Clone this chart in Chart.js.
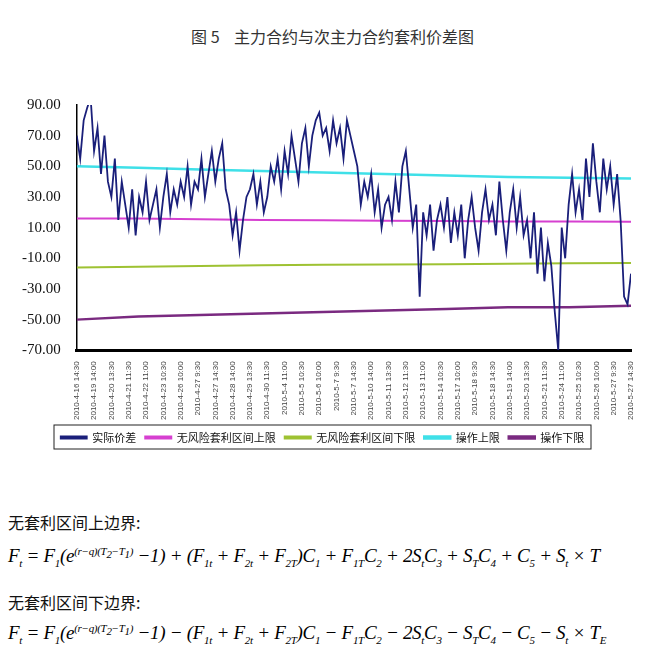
<!DOCTYPE html>
<html><head><meta charset="utf-8">
<script src="https://cdn.jsdelivr.net/npm/chart.js@4/dist/chart.umd.min.js"></script>
<style>
body{margin:0;background:#fff;font-family:"Liberation Serif","Noto Sans CJK SC",serif;}
#title{position:absolute;top:24px;left:0;width:665px;text-align:center;font-size:16px;font-family:"Noto Sans CJK SC";color:#333;}
#wrap{position:absolute;top:88px;left:0;width:665px;height:365px;}
.t{position:absolute;left:8px;font-size:16px;font-family:"Noto Sans CJK SC";color:#111;}
.f{position:absolute;left:8px;font-size:19px;font-family:"Liberation Serif";font-style:italic;white-space:nowrap;letter-spacing:-0.3px;}
.f sub,.f sup{font-size:11px;}
</style></head><body>
<div id="title">图 5&nbsp;&nbsp;&nbsp;&nbsp;主力合约与次主力合约套利价差图</div>
<div id="wrap"><canvas id="c"></canvas></div>
<div class="t" style="top:510px">无套利区间上边界:</div>
<div class="f" style="top:545px">F<sub>t</sub> = F<sub>1</sub>(e<sup>(r−q)(T<sub>2</sub>−T<sub>1</sub>)</sup> −1) + (F<sub>1t</sub> + F<sub>2t</sub> + F<sub>2T</sub>)C<sub>1</sub> + F<sub>1T</sub>C<sub>2</sub> + 2S<sub>t</sub>C<sub>3</sub> + S<sub>T</sub>C<sub>4</sub> + C<sub>5</sub> + S<sub>t</sub> × T</div>
<div class="t" style="top:590px">无套利区间下边界:</div>
<div class="f" style="top:622px">F<sub>t</sub> = F<sub>1</sub>(e<sup>(r−q)(T<sub>2</sub>−T<sub>1</sub>)</sup> −1) − (F<sub>1t</sub> + F<sub>2t</sub> + F<sub>2T</sub>)C<sub>1</sub> − F<sub>1T</sub>C<sub>2</sub> − 2S<sub>t</sub>C<sub>3</sub> − S<sub>T</sub>C<sub>4</sub> − C<sub>5</sub> − S<sub>t</sub> × T<sub>E</sub></div>
<script>
const tickLabels = ['2010-4-16 14:30','2010-4-19 14:00','2010-4-20 13:30','2010-4-21 11:30','2010-4-22 11:00','2010-4-23 10:30','2010-4-26 10:00','2010-4-27 9:30','2010-4-27 14:30','2010-4-28 14:00','2010-4-29 13:30','2010-4-30 11:30','2010-5-4 11:00','2010-5-5 10:30','2010-5-6 10:00','2010-5-7 9:30','2010-5-7 14:30','2010-5-10 14:00','2010-5-11 13:30','2010-5-12 11:30','2010-5-13 11:00','2010-5-14 10:30','2010-5-17 10:00','2010-5-18 9:30','2010-5-18 14:30','2010-5-19 14:00','2010-5-20 13:30','2010-5-21 11:30','2010-5-24 11:00','2010-5-25 10:30','2010-5-26 10:00','2010-5-27 9:30','2010-5-27 14:30'];

// actual spread, 5 readings per tick interval
const actualSpread = [
70,55,80,88,95, 60,75,45,70,40, 30,55,15,40,25, 10,35,5,30,20,
40,15,25,35,10, 30,45,20,35,25, 40,30,50,25,40, 35,55,30,45,60,
40,55,65,35,25, 5,20,-5,15,30, 35,45,25,40,20, 30,50,40,55,35,
60,45,70,55,40, 65,75,50,70,80, 85,70,75,60,80, 65,75,55,80,70,
60,50,25,40,30, 45,20,35,10,25, 30,15,40,20,50, 60,35,10,25,-35,
20,5,25,-5,15, 25,10,30,0,20, 5,25,-10,15,30, 10,-5,20,35,15,
25,5,40,15,-5, 20,35,10,30,5, 15,-10,20,-20,10, -25,0,-15,-45,-70,
10,-10,25,45,20, 35,15,55,30,65, 40,20,55,35,50, 25,45,15,-35,-40,
-20,10];
const upperBound = [16,16,15.5,15,14.8,14.5,14.3,14,14,13.8];
const lowerBound = [-16,-15.5,-15,-14.5,-14.2,-14,-13.8,-13.5,-13.2,-13];
const opUpper = [50,49,48,47,46,45,44,43,42.5,42];
const opLower = [-50,-48,-47,-46,-45,-44,-43,-42,-42,-41];

const pts = a => a.map((y,i)=>({x:i/5,y}));
const flat = a => a.map((y,i)=>({x:i*32/(a.length-1),y}));

const boxPlugin = {id:'box',afterDraw(ch){const l=ch.legend;const c=ch.ctx;c.save();c.strokeStyle='#222';c.lineWidth=1;
  c.strokeRect(l.left+40,l.top+2,l.width-80,l.height-6);c.restore();}};

new Chart(document.getElementById('c'),{
 type:'line',
 data:{datasets:[
  {label:'实际价差',data:pts(actualSpread),borderColor:'#1a1f7a',borderWidth:1.8,pointRadius:0,tension:0},
  {label:'无风险套利区间上限',data:flat(upperBound),borderColor:'#d640d0',borderWidth:2,pointRadius:0},
  {label:'无风险套利区间下限',data:flat(lowerBound),borderColor:'#9ec232',borderWidth:2,pointRadius:0},
  {label:'操作上限',data:flat(opUpper),borderColor:'#3fe0e8',borderWidth:2.5,pointRadius:0},
  {label:'操作下限',data:flat(opLower),borderColor:'#7a2a80',borderWidth:2.5,pointRadius:0}
 ]},
 options:{responsive:true,maintainAspectRatio:false,animation:false,
  layout:{padding:{left:14,right:34}},
  plugins:{legend:{position:'bottom',labels:{boxWidth:26,boxHeight:2,padding:9,color:'#111',font:{size:11,family:'Noto Sans CJK SC'}}},tooltip:{enabled:false}},
  scales:{
   x:{type:'linear',min:0,max:32,grid:{display:false},border:{color:'#000',width:3},
      ticks:{stepSize:1,autoSkip:false,maxRotation:90,minRotation:90,color:'#444',font:{size:8},callback:v=>tickLabels[v]}},
   y:{min:-70,max:90,grid:{display:false},border:{color:'#000',width:1.5},
      ticks:{stepSize:20,padding:8,color:'#111',font:{size:15,family:'Liberation Serif'},callback:v=>v.toFixed(2)}}
  }},
 plugins:[boxPlugin]
});
</script></body></html>
